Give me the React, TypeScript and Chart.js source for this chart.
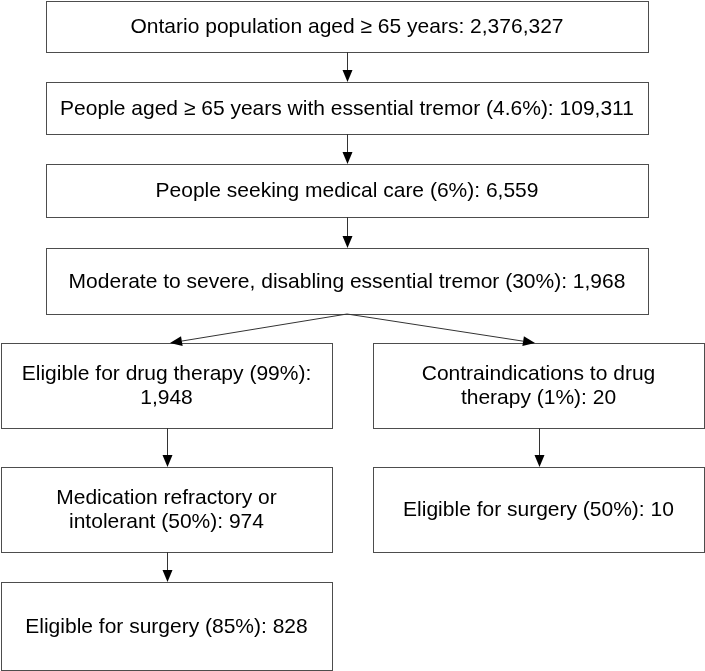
import React, { useEffect, useRef } from "react";
import { Chart, registerables } from "chart.js";

Chart.register(...registerables);

// ---- data ----
const stepLabels = [
  "Ontario population aged ≥ 65 years",
  "People aged ≥ 65 years with essential tremor",
  "People seeking medical care",
  "Moderate to severe, disabling essential tremor",
  "Eligible for drug therapy",
  "Contraindications to drug\ntherapy",
  "Medication refractory or\nintolerant",
  "Eligible for surgery",
  "Eligible for surgery",
];
const stepPercents = ["", "4.6%", "6%", "30%", "99%", "1%", "50%", "50%", "85%"];
const stepCounts = [2376327, 109311, 6559, 1968, 1948, 20, 974, 10, 828];
const countOnNewLine = [false, false, false, false, true, false, false, false, false];
const flowLinks: [number, number][] = [
  [0, 1],
  [1, 2],
  [2, 3],
  [3, 4],
  [3, 5],
  [4, 6],
  [5, 7],
  [6, 8],
];

// ---- layout (in chart value units, 1 unit = 1 px) ----
const boxRects = [
  [46, 1, 648, 52],
  [46, 82, 648, 134],
  [46, 164, 648, 217],
  [46, 248, 648, 314],
  [1, 343, 332, 428],
  [373, 343, 704, 428],
  [1, 467, 332, 552],
  [373, 467, 704, 552],
  [1, 582, 332, 670],
];
const branchTargetsX: Record<string, number> = { "3-4": 170, "3-5": 535 };

function boxText(i: number): string[] {
  const pct = stepPercents[i] ? ` (${stepPercents[i]})` : "";
  const cnt = stepCounts[i].toLocaleString("en-US");
  const full = stepLabels[i] + pct + ":" + (countOnNewLine[i] ? "\n" : " ") + cnt;
  return full.split("\n");
}

const flowPlugin = {
  id: "flow",
  afterDatasetsDraw(chart: any) {
    const ctx: CanvasRenderingContext2D = chart.ctx;
    const xs = chart.scales.x;
    const ys = chart.scales.y;
    const px = (v: number) => xs.getPixelForValue(v);
    const py = (v: number) => ys.getPixelForValue(v);
    ctx.save();
    // boxes
    ctx.lineWidth = 1;
    ctx.strokeStyle = "#4d4d4d";
    ctx.fillStyle = "#ffffff";
    boxRects.forEach((r, i) => {
      const x0 = Math.round(px(r[0])) + 0.5;
      const y0 = Math.round(py(r[1])) + 0.5;
      const x1 = Math.round(px(r[2])) + 0.5;
      const y1 = Math.round(py(r[3])) + 0.5;
      ctx.fillRect(x0, y0, x1 - x0, y1 - y0);
      ctx.strokeRect(x0, y0, x1 - x0, y1 - y0);
      const lines = boxText(i);
      ctx.fillStyle = "#000000";
      ctx.font = '21px "Liberation Sans", Arial, Helvetica, sans-serif';
      ctx.textAlign = "center";
      ctx.textBaseline = "middle";
      const cx = (px(r[0]) + px(r[2])) / 2;
      const cy = (py(r[1]) + py(r[3])) / 2 + 1;
      const lh = 24;
      lines.forEach((ln, k) => {
        ctx.fillText(ln, cx, cy + (k - (lines.length - 1) / 2) * lh);
      });
      ctx.fillStyle = "#ffffff";
    });
    // arrows
    flowLinks.forEach(([a, b]) => {
      const ra = boxRects[a];
      const rb = boxRects[b];
      const sx = (ra[0] + ra[2]) / 2;
      const sy = ra[3];
      const key = `${a}-${b}`;
      const tx = branchTargetsX[key] !== undefined ? branchTargetsX[key] : (rb[0] + rb[2]) / 2;
      const ty = rb[1];
      const x0 = px(sx), y0 = py(sy), x1 = px(tx), y1 = py(ty);
      const ang = Math.atan2(y1 - y0, x1 - x0);
      const len = 12, hw = 5;
      const bx = x1 - Math.cos(ang) * len;
      const by = y1 - Math.sin(ang) * len;
      ctx.strokeStyle = "#333333";
      ctx.lineWidth = 1;
      ctx.beginPath();
      const vert = Math.abs(x1 - x0) < 0.5;
      const ax = vert ? Math.round(x0) + 0.5 : x0;
      ctx.moveTo(ax, y0);
      ctx.lineTo(vert ? ax : bx, by);
      ctx.stroke();
      ctx.fillStyle = "#000000";
      ctx.beginPath();
      const tipx = vert ? ax : x1;
      const bbx = vert ? ax : bx;
      ctx.moveTo(tipx, y1);
      ctx.lineTo(bbx + Math.sin(ang) * hw, by - Math.cos(ang) * hw);
      ctx.lineTo(bbx - Math.sin(ang) * hw, by + Math.cos(ang) * hw);
      ctx.closePath();
      ctx.fill();
    });
    ctx.restore();
  },
};

export default function App() {
  const ref = useRef<HTMLCanvasElement | null>(null);
  useEffect(() => {
    document.body.style.margin = "0";
    document.body.style.background = "#ffffff";
    const canvas = ref.current;
    if (!canvas) return;
    const chart = new Chart(canvas, {
      type: "scatter",
      data: { datasets: [{ data: [], pointRadius: 0 }] },
      options: {
        animation: false,
        responsive: false,
        maintainAspectRatio: false,
        layout: { padding: 0 },
        plugins: { legend: { display: false }, tooltip: { enabled: false } },
        scales: {
          x: { type: "linear", min: 0, max: 705, display: false },
          y: { type: "linear", min: 0, max: 671, reverse: true, display: false },
        },
      },
      plugins: [flowPlugin],
    });
    return () => chart.destroy();
  }, []);
  return (
    <div style={{ width: 705, height: 671, background: "#fff" }}>
      <canvas ref={ref} width={705} height={671} style={{ display: "block" }} />
    </div>
  );
}
